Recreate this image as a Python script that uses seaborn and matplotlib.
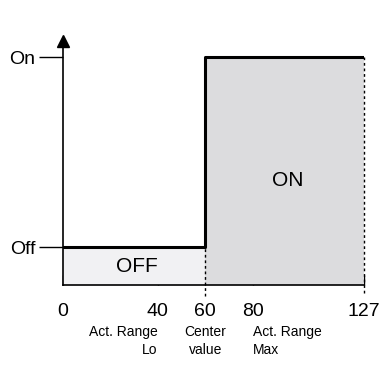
import numpy as np
import pandas as pd
import seaborn as sns
import matplotlib.pyplot as plt

# switch curve: output level vs. input value
x_step = [0, 60, 127]
y_step = [1, 6, 6]
state_ticks = [1, 6]
state_labels = ['Off', 'On']
x_ticks = [0, 40, 60, 80, 127]
x_ticklabels = ['0', '40', '60', '80', '127']
center = 60
x_max = 127
range_notes = [(40, 'Act. Range\nLo', 'right'),
               (60, 'Center\nvalue', 'center'),
               (80, 'Act. Range\nMax', 'left')]

sns.set_theme(style='white')
plt.rcParams['font.family'] = ['Liberation Sans', 'DejaVu Sans']
plt.rcParams['text.color'] = 'black'
plt.rcParams['xtick.labelcolor'] = 'black'
plt.rcParams['ytick.labelcolor'] = 'black'

fig = plt.figure(figsize=(3.82, 3.65), dpi=100)
ax = fig.add_axes([63 / 382, 80 / 365, 301 / 382, 245 / 365])

# shaded regions
ax.fill_between([0, center], 0, y_step[0], color='#f1f1f3', lw=0)
ax.fill_between([center, x_max], 0, y_step[1], color='#dcdcde', lw=0)

df = pd.DataFrame({'x': x_step, 'y': y_step})
sns.lineplot(data=df, x='x', y='y', drawstyle='steps-post', color='black', lw=2.2, ax=ax)

# dotted guides
ax.plot([center, center], [-0.3, y_step[0]], color='black', lw=1, ls=(0, (2, 2)), clip_on=False)
ax.plot([x_max, x_max], [-0.2, y_step[1]], color='black', lw=1, ls=(0, (2, 2)), clip_on=False)

ax.text(31, 0.5, 'OFF', ha='center', va='center', fontsize=15)
ax.text(95, 2.76, 'ON', ha='center', va='center', fontsize=15)

ax.set_xlim(0, x_max)
ax.set_ylim(0, 6.45)
ax.set_xlabel('')
ax.set_ylabel('')
ax.set_xticks(x_ticks)
ax.set_xticklabels(x_ticklabels, fontsize=14)
ax.set_yticks(state_ticks)
ax.set_yticklabels(state_labels, fontsize=14)
ax.tick_params(axis='x', direction='in', length=7, width=1, color='black', pad=13, bottom=True)
ax.tick_params(axis='y', direction='out', length=17, width=1, color='black', pad=3, left=True)

for s in ['top', 'right']:
    ax.spines[s].set_visible(False)
for s in ['left', 'bottom']:
    ax.spines[s].set_color('black')
    ax.spines[s].set_linewidth(1.2)

# arrow head on the y axis
ax.plot(0, 6.42, marker='^', color='black', markersize=8, clip_on=False)

for xv, txt, ha in range_notes:
    ax.annotate(txt, xy=(xv, 0), xycoords='data', xytext=(0, -29), textcoords='offset points',
                ha=ha, va='top', fontsize=10, linespacing=1.3, annotation_clip=False)

fig.savefig('out.png', dpi=100)
